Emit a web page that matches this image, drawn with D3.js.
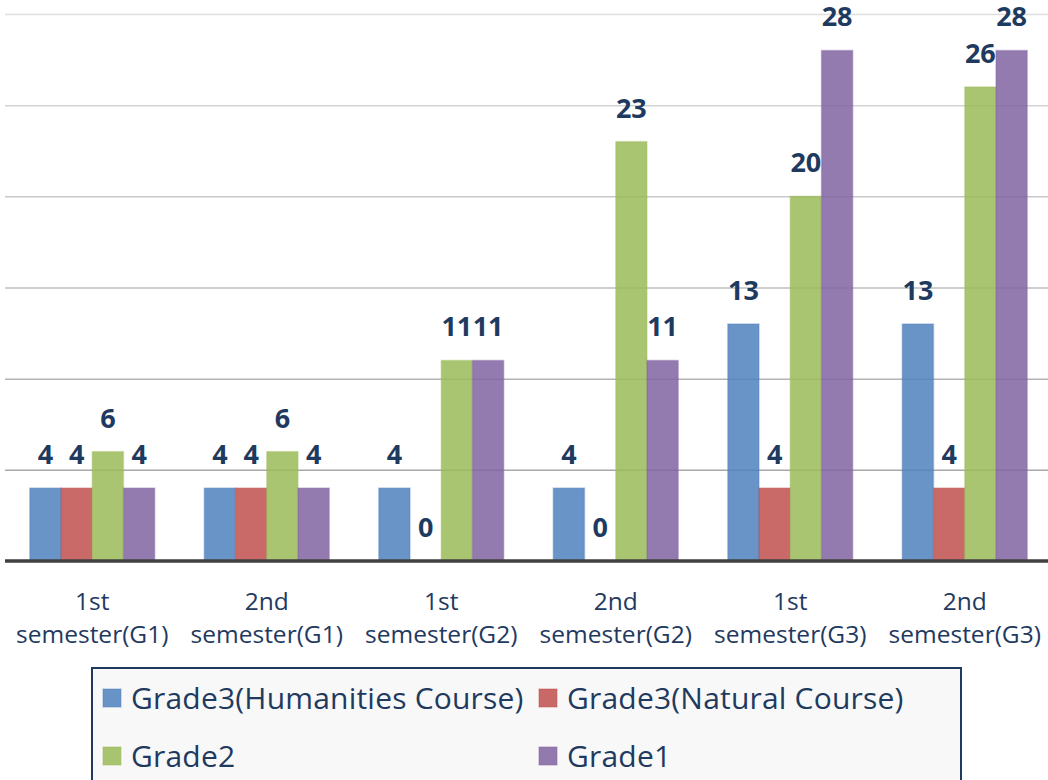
<!DOCTYPE html>
<html>
<head>
<meta charset="utf-8">
<script src="https://cdn.jsdelivr.net/npm/d3@7"></script>
<style>
  body { margin: 0; background: #fff; }
  svg { display: block; font-family: "Open Sans", sans-serif; }
  .grid line { stroke: #c4c4c4; stroke-width: 1.5; }
  .grid path { display: none; }
  .xaxis path, .xaxis line { display: none; }
  .xaxis text { fill: #1f3a5f; font-size: 24.5px; font-family: "Open Sans", sans-serif; }
  .val { fill: #1f3a5f; font-size: 27px; font-weight: bold; text-anchor: middle; }
  .leg text { fill: #1f3a5f; font-size: 30px; letter-spacing: 0.2px; }
</style>
</head>
<body>
<div id="chart"></div>
<script>
// categories (two text lines each)
var categories = ["1st semester(G1)", "2nd semester(G1)", "1st semester(G2)",
                  "2nd semester(G2)", "1st semester(G3)", "2nd semester(G3)"];
var catLine1 = ["1st", "2nd", "1st", "2nd", "1st", "2nd"];
var catLine2 = ["semester(G1)", "semester(G1)", "semester(G2)",
                "semester(G2)", "semester(G3)", "semester(G3)"];

var seriesNames = ["Grade3(Humanities Course)", "Grade3(Natural Course)", "Grade2", "Grade1"];
var seriesColors = ["#4F81BD", "#C0504D", "#9BBB59", "#8064A2"];

// values per series, in category order
var humanities = [4, 4, 4, 4, 13, 13];
var natural    = [4, 4, 0, 0, 4, 4];
var grade2     = [6, 6, 11, 23, 20, 26];
var grade1     = [4, 4, 11, 11, 28, 28];

var gridTicks = [5, 10, 15, 20, 25, 30];

var seriesValues = [humanities, natural, grade2, grade1];

var width = 1048, height = 780;
var left = 5, right = 1052, baseY = 561, topY = 14;

var svg = d3.select("#chart").append("svg")
    .attr("width", width)
    .attr("height", height);

var x = d3.scaleBand()
    .domain(categories)
    .range([left, right])
    .paddingInner(0.284)
    .paddingOuter(0.142);

var xs = d3.scaleBand()
    .domain(seriesNames)
    .range([0, x.bandwidth()])
    .padding(0);

var y = d3.scaleLinear()
    .domain([0, 30])
    .range([baseY, topY]);

var color = d3.scaleOrdinal().domain(seriesNames).range(seriesColors);

// gridlines, lighter toward the top
var gridShade = d3.scaleLinear().domain([5, 30]).range(["#a8a8a8", "#dedede"]);
var grid = svg.append("g")
    .attr("class", "grid")
    .attr("transform", "translate(" + left + ",0)")
    .call(d3.axisLeft(y).tickValues(gridTicks).tickSize(-(width - left)).tickFormat(""));
grid.selectAll(".tick line").style("stroke", function(d) { return gridShade(d); });

// bars
var rows = [];
categories.forEach(function(c, i) {
  seriesNames.forEach(function(s, j) {
    rows.push({cat: c, series: s, value: seriesValues[j][i]});
  });
});

svg.append("g").selectAll("rect")
  .data(rows.filter(function(d) { return d.value > 0; }))
  .enter().append("rect")
    .attr("x", function(d) { return x(d.cat) + xs(d.series); })
    .attr("y", function(d) { return y(d.value); })
    .attr("width", xs.bandwidth())
    .attr("height", function(d) { return baseY - y(d.value); })
    .attr("fill", function(d) { return color(d.series); })
    .attr("fill-opacity", 0.85)
    .attr("stroke", function(d) { return color(d.series); })
    .attr("stroke-opacity", 0.35)
    .attr("stroke-width", 1.5);

// baseline
svg.append("line")
    .attr("x1", left).attr("x2", width)
    .attr("y1", baseY).attr("y2", baseY)
    .attr("stroke", "#404040")
    .attr("stroke-width", 3.5);

// value labels
svg.append("g").selectAll("text")
  .data(rows)
  .enter().append("text")
    .attr("class", "val")
    .attr("x", function(d) { return x(d.cat) + xs(d.series) + xs.bandwidth() / 2; })
    .attr("y", function(d) { return y(d.value) - 24; })
    .text(function(d) { return d.value; });

// category axis
var xaxis = svg.append("g")
    .attr("class", "xaxis")
    .attr("transform", "translate(0," + baseY + ")")
    .call(d3.axisBottom(x).tickSize(0).tickFormat(""));
xaxis.selectAll(".tick text").remove();
xaxis.selectAll(".tick").append("text")
    .attr("text-anchor", "middle")
    .each(function(d, i) {
      var t = d3.select(this);
      t.append("tspan").attr("x", 0).attr("y", 49).text(catLine1[i]);
      t.append("tspan").attr("x", 0).attr("y", 82).text(catLine2[i]);
    });

// legend
var leg = svg.append("g").attr("class", "leg");
leg.append("rect")
    .attr("x", 92).attr("y", 668)
    .attr("width", 869).attr("height", 140)
    .attr("fill", "#f8f8f8")
    .attr("stroke", "#1f3a5f")
    .attr("stroke-width", 2);

var legItem = leg.selectAll(".item")
  .data(seriesNames)
  .enter().append("g")
    .attr("class", "item")
    .attr("transform", function(d, i) {
      return "translate(" + (i % 2 ? 539 : 103) + "," + (i < 2 ? 689 : 747) + ")";
    });
legItem.append("rect")
    .attr("width", 18).attr("height", 18)
    .attr("fill", function(d) { return color(d); })
    .attr("fill-opacity", 0.85)
    .attr("stroke", function(d) { return color(d); })
    .attr("stroke-opacity", 0.35)
    .attr("stroke-width", 1.5);
legItem.append("text")
    .attr("x", 28).attr("y", 20)
    .text(function(d) { return d; });
</script>
</body>
</html>
